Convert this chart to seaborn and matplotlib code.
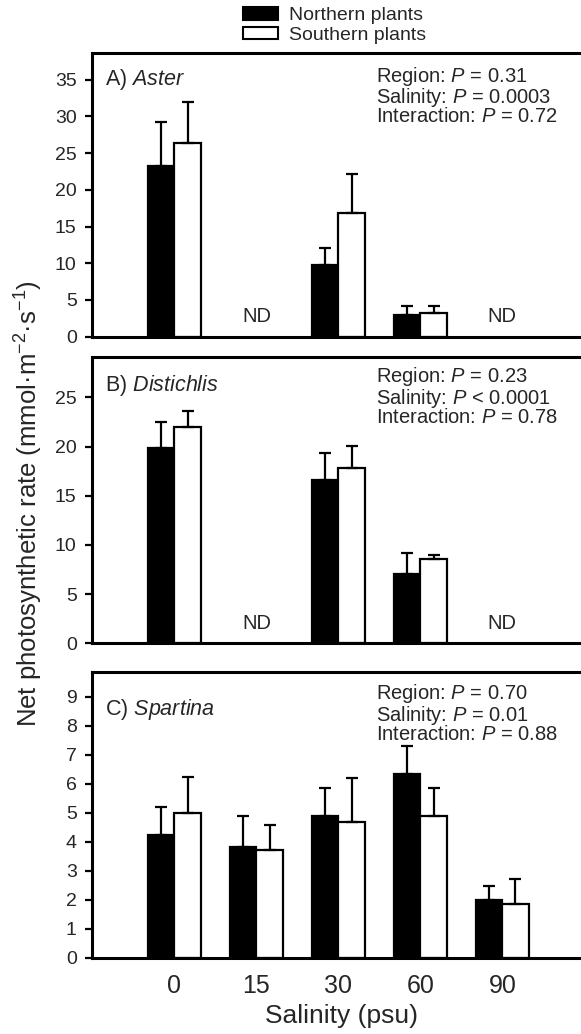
import numpy as np
import pandas as pd
import seaborn as sns
import matplotlib.pyplot as plt
from matplotlib.patches import Patch
import matplotlib.transforms as mtrans

# ============================================
# DATA
# ============================================

salinity = ["0", "15", "30", "60", "90"]
regions = ["Northern plants", "Southern plants"]

# Aster: 15 and 90 psu not determined (ND)
aster_sal = ["0", "0", "30", "30", "60", "60"]
aster_reg = ["Northern plants", "Southern plants"] * 3
aster_mean = [23.3, 26.4, 9.7, 16.9, 2.9, 3.2]
aster_err = [6.0, 5.6, 2.4, 5.3, 1.3, 1.0]

# Distichlis: 15 and 90 psu not determined (ND)
dist_sal = ["0", "0", "30", "30", "60", "60"]
dist_reg = ["Northern plants", "Southern plants"] * 3
dist_mean = [19.9, 21.95, 16.6, 17.85, 7.0, 8.6]
dist_err = [2.6, 1.65, 2.7, 2.2, 2.2, 0.35]

# Spartina: all salinities
spar_sal = ["0", "0", "15", "15", "30", "30", "60", "60", "90", "90"]
spar_reg = ["Northern plants", "Southern plants"] * 5
spar_mean = [4.23, 4.98, 3.83, 3.70, 4.89, 4.68, 6.33, 4.87, 1.98, 1.85]
spar_err = [0.95, 1.24, 1.06, 0.87, 0.97, 1.50, 0.97, 0.97, 0.49, 0.87]

panels = [
    {
        "label": r"A) $\mathit{Aster}$",
        "stats": "Region: $\\mathit{P}$ = 0.31\nSalinity: $\\mathit{P}$ = 0.0003\nInteraction: $\\mathit{P}$ = 0.72",
        "sal": aster_sal, "reg": aster_reg, "mean": aster_mean, "err": aster_err,
        "ylim": 38.7, "yticks": np.arange(0, 36, 5), "nd": ["15", "90"],
        "pos": [0.1583, 0.6744, 0.8503, 0.2747], "label_y": 0.904, "stats_y": 0.958,
    },
    {
        "label": r"B) $\mathit{Distichlis}$",
        "stats": "Region: $\\mathit{P}$ = 0.23\nSalinity: $\\mathit{P}$ < 0.0001\nInteraction: $\\mathit{P}$ = 0.78",
        "sal": dist_sal, "reg": dist_reg, "mean": dist_mean, "err": dist_err,
        "ylim": 29.07, "yticks": np.arange(0, 26, 5), "nd": ["15", "90"],
        "pos": [0.1583, 0.3778, 0.8503, 0.2766], "label_y": 0.903, "stats_y": 0.972,
    },
    {
        "label": r"C) $\mathit{Spartina}$",
        "stats": "Region: $\\mathit{P}$ = 0.70\nSalinity: $\\mathit{P}$ = 0.01\nInteraction: $\\mathit{P}$ = 0.88",
        "sal": spar_sal, "reg": spar_reg, "mean": spar_mean, "err": spar_err,
        "ylim": 9.86, "yticks": np.arange(0, 10, 1), "nd": [],
        "pos": [0.1583, 0.0738, 0.8503, 0.2766], "label_y": 0.867, "stats_y": 0.963,
    },
]

# ============================================
# STYLE
# ============================================

sns.set_theme(style="white")
plt.rcParams["font.family"] = ["Liberation Sans", "DejaVu Sans"]
plt.rcParams["mathtext.fontset"] = "custom"
plt.rcParams["mathtext.rm"] = "Liberation Sans"
plt.rcParams["mathtext.it"] = "Liberation Sans:italic"
plt.rcParams["mathtext.bf"] = "Liberation Sans:bold"

palette = {"Northern plants": "black", "Southern plants": "white"}

fig = plt.figure(figsize=(5.81, 10.34), dpi=100)

for i, p in enumerate(panels):
    ax = fig.add_axes(p["pos"])
    df = pd.DataFrame({
        "Salinity": p["sal"],
        "Region": p["reg"],
        "Rate": p["mean"],
    })

    sns.barplot(
        data=df,
        x="Salinity",
        y="Rate",
        hue="Region",
        order=salinity,
        hue_order=regions,
        palette=palette,
        edgecolor="black",
        linewidth=1.6,
        width=0.64,
        errorbar=None,
        legend=False,
        ax=ax,
    )

    # upper error bars only
    err_lookup = {(s, r): e for s, r, e in zip(p["sal"], p["reg"], p["err"])}
    for container, reg in zip(ax.containers, regions):
        for patch in container:
            h = patch.get_height()
            if np.isnan(h):
                continue
            xc = patch.get_x() + patch.get_width() / 2
            cat = salinity[int(round(xc))]
            e = err_lookup.get((cat, reg))
            if e is None:
                continue
            ax.errorbar(
                xc, h, yerr=[[0], [e]],
                fmt="none", ecolor="black",
                elinewidth=1.6, capsize=4.5, capthick=1.6,
            )

    ax.set_xlim(-1.006, 5.02)
    ax.set_ylim(0, p["ylim"])
    ax.set_yticks(p["yticks"])
    ax.set_xlabel("")
    ax.set_ylabel("")

    for side in ["top", "left", "bottom"]:
        ax.spines[side].set_visible(True)
        ax.spines[side].set_linewidth(2.2)
        ax.spines[side].set_color("black")
    ax.spines["right"].set_visible(False)

    ax.tick_params(axis="y", direction="out", length=5, width=1.6,
                   color="black", labelsize=14, pad=6, left=True)
    ax.tick_params(axis="x", length=0, labelsize=18, pad=12)
    if i < 2:
        ax.set_xticklabels([])

    ax.text(0.026, p["label_y"], p["label"], transform=ax.transAxes,
            fontsize=15.5, va="center", ha="left")
    ax.text(0.575, p["stats_y"], p["stats"], transform=ax.transAxes,
            fontsize=14.5, va="top", ha="left", linespacing=0.9)

    trans = mtrans.blended_transform_factory(ax.transData, ax.transAxes)
    for cat in p["nd"]:
        ax.text(salinity.index(cat), 0.07, "ND", transform=trans,
                fontsize=14.5, ha="center", va="center")

# ============================================
# LABELS & LEGEND
# ============================================

fig.text(0.587, 0.017, "Salinity (psu)", ha="center", va="center", fontsize=19)
fig.text(0.05, 0.513,
         "Net photosynthetic rate (mmol\u00b7m$^{\u22122}$\u00b7s$^{\u22121}$)",
         rotation=90, ha="center", va="center", fontsize=18.5)

handles = [
    Patch(facecolor="black", edgecolor="black", linewidth=1.5),
    Patch(facecolor="white", edgecolor="black", linewidth=1.5),
]
fig.legend(
    handles, regions,
    loc="upper left",
    bbox_to_anchor=(0.418, 0.993),
    frameon=False,
    fontsize=14,
    handlelength=1.8,
    handleheight=0.6,
    handletextpad=0.55,
    labelspacing=0.12,
    borderpad=0,
    borderaxespad=0,
)

plt.savefig("out.png", dpi=100)
plt.close()
